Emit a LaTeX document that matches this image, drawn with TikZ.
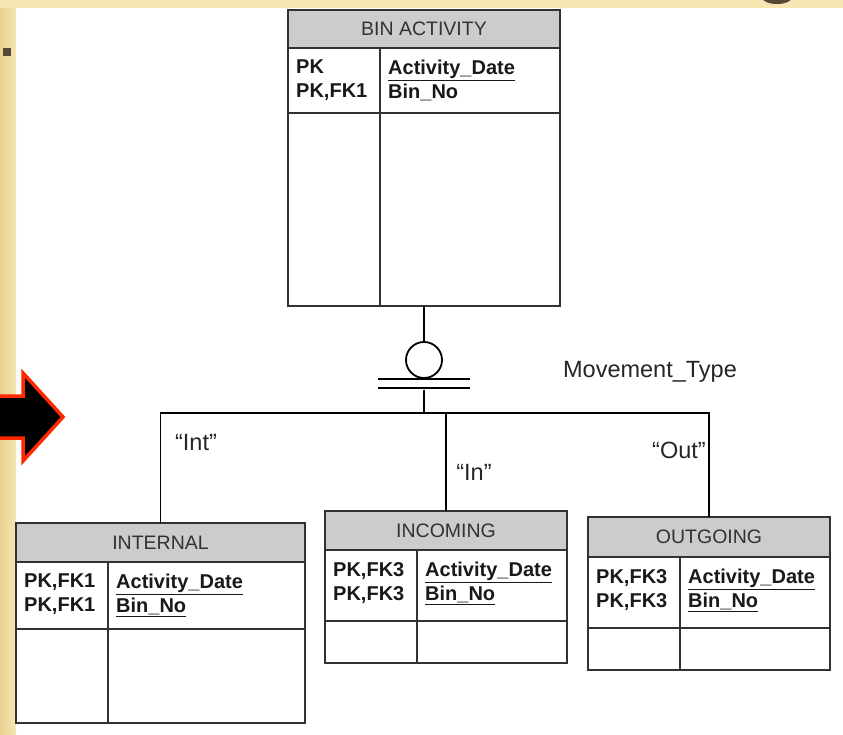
\documentclass[tikz,border=0pt]{standalone}
\usepackage{fontspec}
\setmainfont{Liberation Sans}
\usetikzlibrary{positioning,calc}
\definecolor{hdrgray}{RGB}{204,204,204}
\definecolor{linegray}{RGB}{50,50,50}
\definecolor{slidebeige}{RGB}{247,230,178}
\definecolor{slidetan}{RGB}{233,208,146}
\definecolor{bulletbrown}{RGB}{88,70,56}
\definecolor{arrowred}{RGB}{255,40,0}
\tikzset{
    entbox/.style={draw=linegray, line width=1.6pt, anchor=north west,
        inner sep=0pt, outer sep=0pt},
    hdrbox/.style={entbox, fill=hdrgray, text=linegray,
        font=\fontsize{19.5}{22}\selectfont},
    entline/.style={draw=linegray, line width=1.6pt},
    keytext/.style={anchor=north west, inner sep=0pt, align=left, text=black!90,
        font=\bfseries\fontsize{20}{24}\selectfont},
    conn/.style={line width=1.8pt, black},
    lbltext/.style={inner sep=0pt, text=black!85, font=\fontsize{23.5}{26}\selectfont}
}
% name, x, y, width, header h, key h, body h, divider, title
\newcommand{\erentity}[9]{%
    \node[hdrbox, minimum width=#4pt, minimum height=#5pt] (#1-hdr) at (#2,#3) {#9};
    \node[entbox, minimum width=#4pt, minimum height=#6pt, below=0pt of #1-hdr] (#1-keys) {};
    \node[entbox, minimum width=#4pt, minimum height=#7pt, below=0pt of #1-keys] (#1-body) {};
    \draw[entline] ([xshift=#8pt]#1-keys.north west) -- ([xshift=#8pt]#1-body.south west);
}

\begin{document}
\begin{tikzpicture}[x=1pt, y=-1pt]
\useasboundingbox (0,0) rectangle (843,735);
% slide background
\fill[white] (0,0) rectangle (843,735);
\shade[left color=slidetan, right color=slidebeige] (0,0) rectangle (16,735);
\fill[slidebeige] (0,0) rectangle (843,8);
\begin{scope}
    \clip (0,0) rectangle (843,8);
    \fill[bulletbrown] (777,-2) ellipse (14.5pt and 6pt);
\end{scope}
\fill[bulletbrown] (3,48) rectangle (11,56);
\filldraw[fill=black, draw=arrowred, line width=3.5pt]
    (-10,396) -- (23,396) -- (23,373) -- (63,417) -- (23,461) -- (23,438) -- (-10,438) -- cycle;

% entities
\erentity{bin}{288}{10}{272}{38}{65}{193}{92}{BIN ACTIVITY}
\erentity{int}{16}{523}{289}{39}{67}{94}{92}{INTERNAL}
\erentity{inc}{325}{511}{242}{39}{71}{42}{92}{INCOMING}
\erentity{out}{588}{517}{242}{40}{71}{42}{92}{OUTGOING}

\node[keytext] (bin-pk) at ([shift={(8pt,-12pt)}]bin-keys.north west) {PK\\PK,FK1};
\node[keytext] (bin-cols) at ([shift={(100pt,-12pt)}]bin-keys.north west) {\underline{Activity\_Date}\\Bin\_No};
\node[keytext] (int-pk) at ([shift={(8pt,-12pt)}]int-keys.north west) {PK,FK1\\PK,FK1};
\node[keytext] (int-cols) at ([shift={(100pt,-12pt)}]int-keys.north west) {\underline{Activity\_Date}\\\underline{Bin\_No}};
\node[keytext] (inc-pk) at ([shift={(8pt,-12pt)}]inc-keys.north west) {PK,FK3\\PK,FK3};
\node[keytext] (inc-cols) at ([shift={(100pt,-12pt)}]inc-keys.north west) {\underline{Activity\_Date}\\\underline{Bin\_No}};
\node[keytext] (out-pk) at ([shift={(8pt,-12pt)}]out-keys.north west) {PK,FK3\\PK,FK3};
\node[keytext] (out-cols) at ([shift={(100pt,-12pt)}]out-keys.north west) {\underline{Activity\_Date}\\\underline{Bin\_No}};

% subtype connector
\node[circle, draw, line width=1.8pt, minimum size=36pt, inner sep=0pt] (disc) at (424,360) {};
\node[fill=black, inner sep=0pt, minimum width=92pt, minimum height=2.6pt] (bara) at (424,379) {};
\node[fill=black, inner sep=0pt, minimum width=92pt, minimum height=2.6pt] (barb) at (424,388) {};
\coordinate (split) at (424,413);
\draw[conn] (bin-body.south) -- (disc.north);
\draw[conn] (barb) -- (split);
\draw[conn] (int-hdr.north) |- (split) -| (out-hdr.north);
\draw[conn] (inc-hdr.north) -- (inc-hdr.north |- split);

\node[lbltext] (lbl-move) at (650,372) {Movement\_Type};
\node[lbltext] (lbl-int) at (196,443) {“Int”};
\node[lbltext] (lbl-in) at (474,472) {“In”};
\node[lbltext] (lbl-out) at (679,450) {“Out”};
\end{tikzpicture}
\end{document}
